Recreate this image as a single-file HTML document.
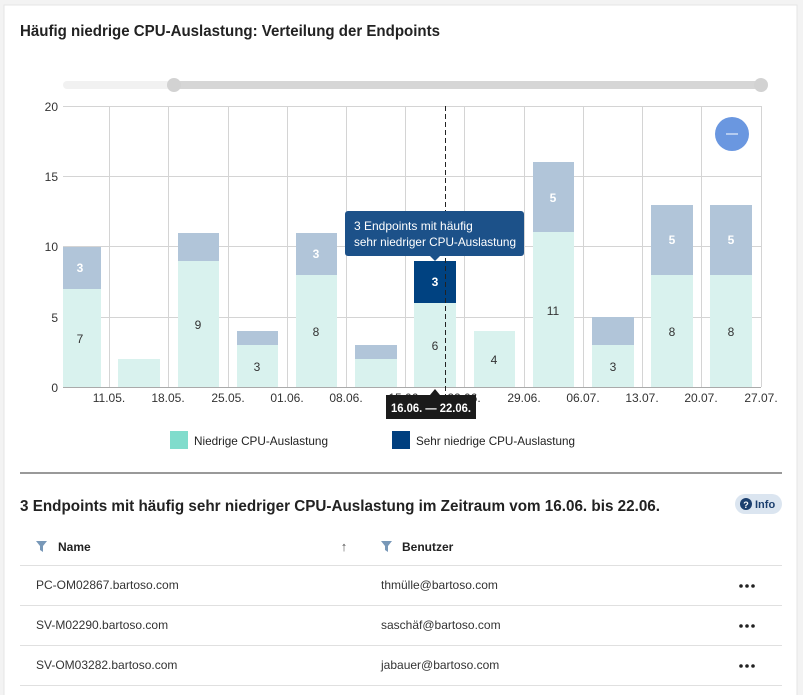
<!DOCTYPE html>
<html><head><meta charset="utf-8"><style>
html,body{margin:0;padding:0;background:#f4f4f4;}
svg{display:block;font-family:"Liberation Sans",sans-serif;}
</style></head><body>
<svg width="803" height="695" viewBox="0 0 803 695" xmlns="http://www.w3.org/2000/svg">
<rect x="0" y="0" width="803" height="695" fill="#f3f3f3"/>
<rect x="4" y="5" width="793" height="695" fill="#fff" stroke="#e6e6e6"/>
<text x="20" y="36" font-size="16" font-weight="bold" fill="#222" textLength="420" lengthAdjust="spacingAndGlyphs">Häufig niedrige CPU-Auslastung: Verteilung der Endpoints</text>
<!-- slider -->
<rect x="63" y="81" width="111" height="8" rx="4" fill="#f1f1f1"/>
<rect x="174" y="81" width="587" height="8" rx="4" fill="#d6d6d6"/>
<circle cx="174" cy="85" r="7" fill="#d2d2d2"/>
<circle cx="761" cy="85" r="7" fill="#d2d2d2"/>
<!-- grid -->
<g stroke="#d4d4d4" stroke-width="1">
<line x1="63" y1="106.5" x2="761" y2="106.5"/>
<line x1="63" y1="176.5" x2="761" y2="176.5"/>
<line x1="63" y1="246.5" x2="761" y2="246.5"/>
<line x1="63" y1="317.5" x2="761" y2="317.5"/>
<line x1="109.5" y1="106" x2="109.5" y2="387"/>
<line x1="168.5" y1="106" x2="168.5" y2="387"/>
<line x1="228.5" y1="106" x2="228.5" y2="387"/>
<line x1="287.5" y1="106" x2="287.5" y2="387"/>
<line x1="346.5" y1="106" x2="346.5" y2="387"/>
<line x1="405.5" y1="106" x2="405.5" y2="387"/>
<line x1="464.5" y1="106" x2="464.5" y2="387"/>
<line x1="524.5" y1="106" x2="524.5" y2="387"/>
<line x1="583.5" y1="106" x2="583.5" y2="387"/>
<line x1="642.5" y1="106" x2="642.5" y2="387"/>
<line x1="701.5" y1="106" x2="701.5" y2="387"/>
<line x1="761.5" y1="106" x2="761.5" y2="387"/>
</g>
<g font-size="12" fill="#333" text-anchor="end">
<text x="58" y="111">20</text><text x="58" y="181">15</text><text x="58" y="251">10</text><text x="58" y="322">5</text><text x="58" y="392">0</text>
</g>
<!-- bars -->
<g fill="#d9f2ee">
<rect x="63" y="289" width="38" height="98"/>
<rect x="118" y="359" width="42" height="28"/>
<rect x="178" y="261" width="41" height="126"/>
<rect x="237" y="345" width="41" height="42"/>
<rect x="296" y="275" width="41" height="112"/>
<rect x="355" y="359" width="42" height="28"/>
<rect x="414" y="303" width="42" height="84"/>
<rect x="474" y="331" width="41" height="56"/>
<rect x="533" y="232" width="41" height="155"/>
<rect x="592" y="345" width="42" height="42"/>
<rect x="651" y="275" width="42" height="112"/>
<rect x="710" y="275" width="42" height="112"/>
</g>
<g fill="#b1c5d9">
<rect x="63" y="247" width="38" height="42"/>
<rect x="178" y="233" width="41" height="28"/>
<rect x="237" y="331" width="41" height="14"/>
<rect x="296" y="233" width="41" height="42"/>
<rect x="355" y="345" width="42" height="14"/>
<rect x="533" y="162" width="41" height="70"/>
<rect x="592" y="317" width="42" height="28"/>
<rect x="651" y="205" width="42" height="70"/>
<rect x="710" y="205" width="42" height="70"/>
</g>
<rect x="414" y="261" width="42" height="42" fill="#004281"/>
<g font-size="12" fill="#333" text-anchor="middle">
<text x="80" y="343">7</text><text x="198" y="329">9</text><text x="257" y="371">3</text><text x="316" y="336">8</text>
<text x="435" y="350">6</text><text x="494" y="364">4</text><text x="553" y="315">11</text><text x="613" y="371">3</text>
<text x="672" y="336">8</text><text x="731" y="336">8</text>
</g>
<g font-size="12" fill="#fff" font-weight="bold" text-anchor="middle">
<text x="80" y="272">3</text><text x="316" y="258">3</text><text x="435" y="286">3</text>
<text x="553" y="202">5</text><text x="672" y="244">5</text><text x="731" y="244">5</text>
</g>
<line x1="63" y1="387.5" x2="761" y2="387.5" stroke="#aaa"/>
<line x1="445.5" y1="106" x2="445.5" y2="395" stroke="#222" stroke-dasharray="5,3"/>
<!-- x labels -->
<g font-size="12" fill="#333" text-anchor="middle">
<text x="109" y="402">11.05.</text><text x="168" y="402">18.05.</text><text x="228" y="402">25.05.</text><text x="287" y="402">01.06.</text><text x="346" y="402">08.06.</text><text x="405" y="402">15.06.</text><text x="464" y="402">22.06.</text><text x="524" y="402">29.06.</text><text x="583" y="402">06.07.</text><text x="642" y="402">13.07.</text><text x="701" y="402">20.07.</text><text x="761" y="402">27.07.</text>
</g>
<rect x="386" y="395" width="90" height="24" fill="#1b1b1b"/>
<path d="M430 395 L435 389 L440 395Z" fill="#1b1b1b"/>
<text x="431" y="412" font-size="12" font-weight="bold" fill="#fff" text-anchor="middle" textLength="80" lengthAdjust="spacingAndGlyphs">16.06. — 22.06.</text>
<!-- tooltip -->
<rect x="345" y="211" width="179" height="45" rx="3" fill="#1c5189"/>
<path d="M430 256 L435 261 L440 256Z" fill="#1c5189"/>
<text x="354" y="230" font-size="12" fill="#fff">3 Endpoints mit häufig</text>
<text x="354" y="246" font-size="12" fill="#fff" textLength="162" lengthAdjust="spacingAndGlyphs">sehr niedriger CPU-Auslastung</text>
<!-- zoom button -->
<circle cx="732" cy="134" r="17" fill="#6a97e0"/>
<line x1="726" y1="134" x2="738" y2="134" stroke="#fff" stroke-width="1"/>
<!-- legend -->
<rect x="170" y="431" width="18" height="18" fill="#80dccc"/>
<text x="194" y="445" font-size="12" fill="#222" textLength="134" lengthAdjust="spacingAndGlyphs">Niedrige CPU-Auslastung</text>
<rect x="392" y="431" width="18" height="18" fill="#003f7f"/>
<text x="416" y="445" font-size="12" fill="#222" textLength="159" lengthAdjust="spacingAndGlyphs">Sehr niedrige CPU-Auslastung</text>
<line x1="20" y1="473" x2="782" y2="473" stroke="#999" stroke-width="2"/>
<text x="20" y="511" font-size="16" font-weight="bold" fill="#222" textLength="640" lengthAdjust="spacingAndGlyphs">3 Endpoints mit häufig sehr niedriger CPU-Auslastung im Zeitraum vom 16.06. bis 22.06.</text>
<rect x="735" y="494" width="47" height="20" rx="10" fill="#dbe5f0"/>
<circle cx="746" cy="504" r="6" fill="#1c3f6e"/>
<text x="746" y="508" font-size="9" font-weight="bold" fill="#fff" text-anchor="middle">?</text>
<text x="755" y="508" font-size="11" font-weight="bold" fill="#1c3f6e">Info</text>
<!-- table -->
<path d="M36 541 h11 l-4 5 v6 l-3 -2 v-4Z" fill="#7898b8"/>
<text x="58" y="551" font-size="12" font-weight="bold" fill="#222">Name</text>
<text x="344" y="551" font-size="13" fill="#555" text-anchor="middle">↑</text>
<path d="M381 541 h11 l-4 5 v6 l-3 -2 v-4Z" fill="#7898b8"/>
<text x="402" y="551" font-size="12" font-weight="bold" fill="#222">Benutzer</text>
<g stroke="#e0e0e0">
<line x1="20" y1="565.5" x2="782" y2="565.5"/><line x1="20" y1="605.5" x2="782" y2="605.5"/><line x1="20" y1="645.5" x2="782" y2="645.5"/><line x1="20" y1="685.5" x2="782" y2="685.5"/>
</g>
<g font-size="12" fill="#333">
<text x="36" y="589">PC-OM02867.bartoso.com</text><text x="381" y="589">thmülle@bartoso.com</text>
<text x="36" y="629">SV-M02290.bartoso.com</text><text x="381" y="629">saschäf@bartoso.com</text>
<text x="36" y="669">SV-OM03282.bartoso.com</text><text x="381" y="669">jabauer@bartoso.com</text>
</g>
<g fill="#222">
<circle cx="741" cy="586" r="1.8"/><circle cx="747" cy="586" r="1.8"/><circle cx="753" cy="586" r="1.8"/>
<circle cx="741" cy="626" r="1.8"/><circle cx="747" cy="626" r="1.8"/><circle cx="753" cy="626" r="1.8"/>
<circle cx="741" cy="666" r="1.8"/><circle cx="747" cy="666" r="1.8"/><circle cx="753" cy="666" r="1.8"/>
</g>
</svg>
</body></html>
